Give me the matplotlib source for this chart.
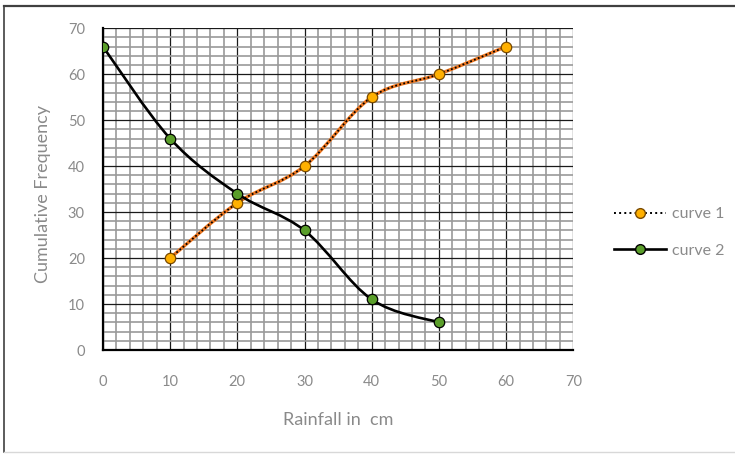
import matplotlib.pyplot as plt
import numpy as np
from matplotlib.path import Path
from matplotlib.patches import PathPatch
from matplotlib.lines import Line2D
from matplotlib.ticker import MultipleLocator

# Данные
x1 = [10, 20, 30, 40, 50, 60]
y1 = [20, 32, 40, 55, 60, 66]
x2 = [0, 10, 20, 30, 40, 50]
y2 = [66, 46, 34, 26, 11, 6]

plt.rcParams['font.family'] = ['Lato', 'DejaVu Sans']
grey_text = '#8a8a8a'


def smooth_path(xs, ys):
    # сглаженная линия как в Excel (кривые Безье)
    pts = np.column_stack([xs, ys]).astype(float)
    n = len(pts)
    verts = [pts[0]]
    codes = [Path.MOVETO]
    for i in range(n - 1):
        p0 = pts[i - 1] if i > 0 else pts[i]
        p1 = pts[i]
        p2 = pts[i + 1]
        p3 = pts[i + 2] if i + 2 < n else pts[i + 1]
        c1 = p1 + (p2 - p0) / 6
        c2 = p2 - (p3 - p1) / 6
        verts += [c1, c2, p2]
        codes += [Path.CURVE4] * 3
    return Path(verts, codes)


fig = plt.figure(figsize=(7.35, 4.54), dpi=100)
ax = fig.add_axes([0.140, 0.229, 0.640, 0.709])

ax.set_xlim(0, 70)
ax.set_ylim(0, 70)
ax.xaxis.set_major_locator(MultipleLocator(10))
ax.yaxis.set_major_locator(MultipleLocator(10))
ax.xaxis.set_minor_locator(MultipleLocator(2))
ax.yaxis.set_minor_locator(MultipleLocator(2))
ax.grid(which='minor', color='#9a9a9a', linewidth=1.2, zorder=0)
ax.grid(which='major', color='#1a1a1a', linewidth=0.9, zorder=0.5)
ax.set_axisbelow(True)
ax.tick_params(which='both', length=0)
ax.tick_params(axis='x', pad=18, labelsize=10.5, labelcolor=grey_text)
ax.tick_params(axis='y', pad=13, labelsize=10.5, labelcolor=grey_text)
for s in ['top', 'right']:
    ax.spines[s].set_visible(False)
for s in ['left', 'bottom']:
    ax.spines[s].set_linewidth(1.6)
    ax.spines[s].set_color('black')

# Кривая 1: оранжевая линия с чёрным пунктиром
p1 = smooth_path(x1, y1)
ax.add_patch(PathPatch(p1, fill=False, edgecolor='#f07820', linewidth=2.4, zorder=3))
ax.add_patch(PathPatch(p1, fill=False, edgecolor='black', linewidth=1.3,
                       linestyle=(0, (1, 1.3)), zorder=3.1))
ax.plot(x1, y1, linestyle='none', marker='o', markersize=7.5,
        markerfacecolor='#ffb000', markeredgecolor='#7a4a00', markeredgewidth=0.9, zorder=4)

# Кривая 2: чёрная сплошная линия
p2 = smooth_path(x2, y2)
ax.add_patch(PathPatch(p2, fill=False, edgecolor='black', linewidth=1.9, zorder=3))
ax.plot(x2, y2, linestyle='none', marker='o', markersize=7.5,
        markerfacecolor='#5a9e2a', markeredgecolor='black', markeredgewidth=0.9, zorder=4)

ax.set_xlabel('Rainfall in  cm', fontsize=13, color=grey_text)
ax.set_ylabel('Cumulative Frequency', fontsize=13, color=grey_text)
ax.xaxis.set_label_coords(0.5, -0.217)
ax.yaxis.set_label_coords(-0.128, 0.485)
ax.xaxis.label.set_va('center')
ax.yaxis.label.set_va('center')

handles = [
    Line2D([], [], color='black', linestyle=':', linewidth=1.4, marker='o', markersize=7,
           markerfacecolor='#ffb000', markeredgecolor='#7a4a00'),
    Line2D([], [], color='black', linestyle='-', linewidth=1.9, marker='o', markersize=7,
           markerfacecolor='#5a9e2a', markeredgecolor='black'),
]
leg = fig.legend(handles, ['curve 1', 'curve 2'], loc='center left',
                 bbox_to_anchor=(0.835, 0.488), frameon=False, fontsize=11.5,
                 handlelength=3.25, labelspacing=1.4, handletextpad=0.4,
                 borderpad=0, borderaxespad=0)
for t in leg.get_texts():
    t.set_color(grey_text)

# Рамка вокруг рисунка
fig.add_artist(Line2D([0.005, 1.0], [0.986, 0.986], color='#404040', linewidth=1.6,
                      transform=fig.transFigure))
fig.add_artist(Line2D([0.006, 0.006], [0.005, 0.986], color='#404040', linewidth=1.2,
                      transform=fig.transFigure))
fig.add_artist(Line2D([0.005, 1.0], [0.005, 0.005], color='#d8d8d8', linewidth=1.0,
                      transform=fig.transFigure))

fig.savefig('out.png', dpi=100)
